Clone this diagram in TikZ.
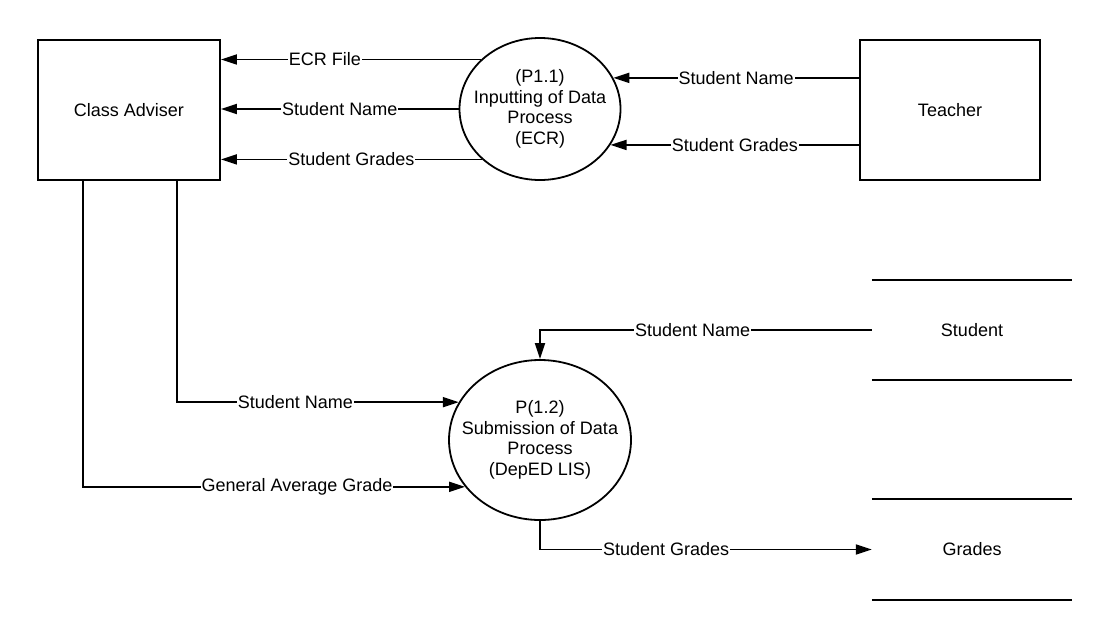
\documentclass[tikz,border=0pt]{standalone}
\usepackage{fontspec}
\setmainfont{Liberation Sans}
\usetikzlibrary{positioning,shapes.geometric,arrows.meta}

\begin{document}
\begin{tikzpicture}[x=1pt,y=-1pt,
        every node/.style={font=\fontsize{18}{20.5}\selectfont},
        entity/.style={draw,line width=1.8pt,minimum width=182pt,minimum height=140pt},
        process/.style={draw,ellipse,line width=1.8pt,inner sep=0pt},
        store/.style={minimum width=200pt,minimum height=100pt},
        flow/.style={line width=1.8pt,-{Triangle[length=16pt,width=10pt]}},
        lbl/.style={fill=white,inner xsep=1pt,inner ysep=0pt}]
        \useasboundingbox (0,0) rectangle (1110,640);
        % external entities
        \node[entity] (ca) at (129,110) {Class Adviser};
        \node[entity,minimum width=180pt] (te) at (950,110) {Teacher};
        % processes
        \node[process,minimum width=161pt,minimum height=142pt,
            label={[align=center]center:{(P1.1)\\Inputting of Data\\Process\\(ECR)}}] (p11) at (540,109) {};
        \node[process,minimum width=182pt,minimum height=160pt,
            label={[align=center]center:{P(1.2)\\Submission of Data\\Process\\(DepED LIS)}}] (p12) at (540,440) {};
        % data stores
        \node[store] (st) at (972,330) {Student};
        \node[store] (gr) at (972,549.5) {Grades};
        \draw[line width=1.8pt] (st.north west) -- (st.north east) (st.south west) -- (st.south east);
        \draw[line width=1.8pt] (gr.north west) -- (gr.north east) (gr.south west) -- (gr.south east);
        % flows
        \draw[flow] (p11.140) -- node[lbl,pos=0.6] {ECR File} (ca.east |- p11.140);
        \draw[flow] (p11.west) -- node[lbl] {Student Name} (ca.east |- p11.west);
        \draw[flow] (p11.221) -- node[lbl] {Student Grades} (ca.east |- p11.221);
        \draw[flow] (te.west |- p11.23) -- node[lbl] {Student Name} (p11.23);
        \draw[flow] (te.west |- p11.333) -- node[lbl] {Student Grades} (p11.333);
        \draw[flow] (st.west) -| node[lbl,pos=0.27] {Student Name} (p12.north);
        \draw[flow] ([xshift=48pt]ca.south) |- node[lbl,pos=0.71] {Student Name} (p12.155);
        \draw[flow] ([xshift=-46pt]ca.south) |- node[lbl,pos=0.78] {General Average Grade} (p12.212);
        \draw[flow] (p12.south) |- node[lbl,pos=0.69] {Student Grades} (gr.west);
    \end{tikzpicture}
\end{document}
